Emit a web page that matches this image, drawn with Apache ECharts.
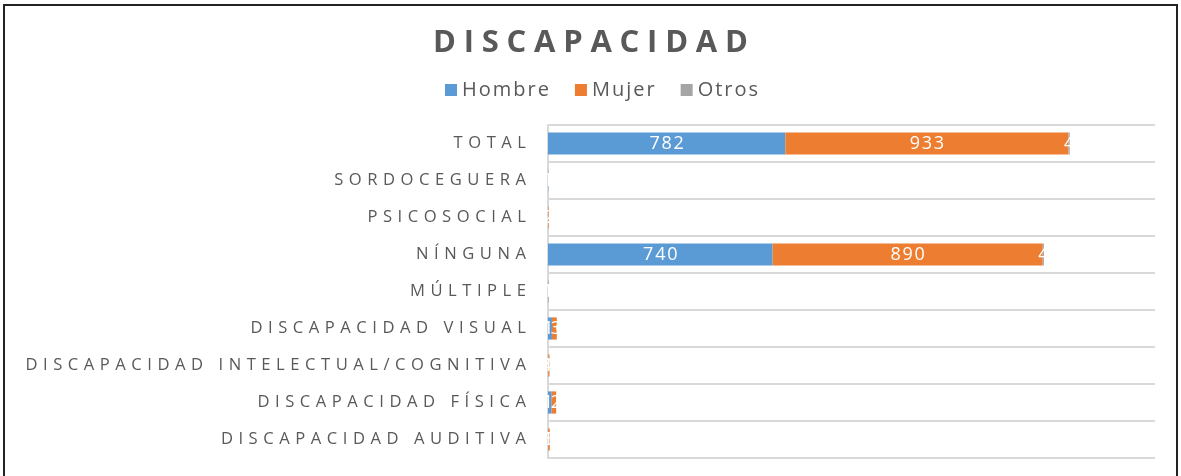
<!DOCTYPE html>
<html>
<head>
<meta charset="utf-8">
<script src="https://cdn.jsdelivr.net/npm/echarts@6/dist/echarts.min.js"></script>
<style>
  html, body { margin: 0; padding: 0; background: #fff; }
  #frame {
    position: absolute; left: 3px; top: 4px; width: 1171px; height: 480px;
    border: 2px solid #222; border-bottom: none; background: #fff;
  }
  #chart { position: absolute; left: -5px; top: -6px; width: 1181px; height: 476px; }
</style>
</head>
<body>
<div id="frame"><div id="chart"></div></div>
<script>
  // categories bottom -> top
  var categorias = ['DISCAPACIDAD AUDITIVA', 'DISCAPACIDAD FÍSICA', 'DISCAPACIDAD INTELECTUAL/COGNITIVA',
    'DISCAPACIDAD VISUAL', 'MÚLTIPLE', 'NÍNGUNA', 'PSICOSOCIAL', 'SORDOCEGUERA', 'TOTAL']
  var hombre = [1, 12, 1, 13, 1, 740, 0, 1, 782]
  var mujer = [5, 15, 4, 16, 1, 890, 2, 0, 933]
  var otros = [0, 0, 0, 0, 0, 4, 0, 0, 4]

  // spread letters a bit, like the original spaced caps
  function spaced(s, sep) {
    return s.split('').join(sep)
  }

  function serie(name, color, data) {
    return {
      name: name,
      type: 'bar',
      stack: 'total',
      barWidth: '60%',
      itemStyle: { color: color },
      label: {
        show: true,
        color: '#fff',
        fontSize: 18,
        fontFamily: 'Open Sans',
        formatter: function (p) { return p.value > 0 ? spaced(String(p.value), '\u200A') : '' }
      },
      data: data
    }
  }

  var chart = echarts.init(document.getElementById('chart'))
  chart.setOption({
    animation: false,
    title: {
      text: spaced('DISCAPACIDAD', '\u2005'),
      left: 'center',
      top: 23,
      textStyle: { color: '#595959', fontSize: 31, fontWeight: 'bold', fontFamily: 'Open Sans' }
    },
    legend: {
      top: 75,
      left: 440,
      itemWidth: 12,
      itemHeight: 12,
      itemGap: 26,
      icon: 'rect',
      textStyle: { color: '#595959', fontSize: 20, fontFamily: 'Open Sans' },
      formatter: function (n) { return spaced(n, '\u200A') },
      data: ['Hombre', 'Mujer', 'Otros']
    },
    grid: { left: 548, right: 26, top: 125, bottom: 18 },
    xAxis: {
      type: 'value',
      min: 0,
      max: 2000,
      show: false
    },
    yAxis: {
      type: 'category',
      data: categorias,
      axisTick: { show: false },
      axisLine: { show: true, lineStyle: { color: '#d9d9d9', width: 2 } },
      splitLine: { show: true, interval: 0, lineStyle: { color: '#d9d9d9', width: 2 } },
      axisLabel: {
        color: '#595959',
        fontSize: 16.6,
        fontFamily: 'Open Sans',
        margin: 22,
        formatter: function (v) { return spaced(v, '\u2004') }
      }
    },
    series: [
      serie('Hombre', '#5B9BD5', hombre),
      serie('Mujer', '#ED7D31', mujer),
      serie('Otros', '#A5A5A5', otros)
    ]
  })
</script>
</body>
</html>
